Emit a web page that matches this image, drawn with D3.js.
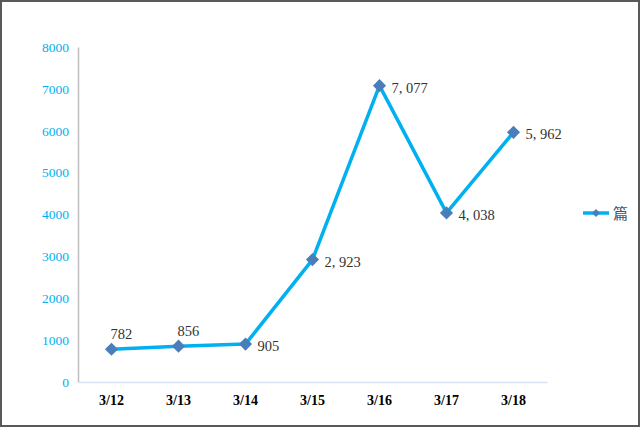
<!DOCTYPE html>
<html><head><meta charset="utf-8">
<script src="https://cdn.jsdelivr.net/npm/d3@7"></script>
<style>html,body{margin:0;padding:0;background:#fff;}svg{display:block;}</style>
</head><body>
<svg id="c" width="640" height="427"></svg>
<script>
const categories = ["3/12","3/13","3/14","3/15","3/16","3/17","3/18"];
const values = [782, 856, 905, 2923, 7077, 4038, 5962];
const yTicks = [0,1000,2000,3000,4000,5000,6000,7000,8000];
const seriesName = "篇";
// label placement: "above" or "right"
const labelPos = ["above","above","right","right","right","right","right"];

(function(){
const svg = d3.select("#c");
const W = 640, H = 427;
svg.append("rect").attr("x",1).attr("y",1).attr("width",W-2).attr("height",H-2)
  .attr("fill","#fff").attr("stroke","#595959").attr("stroke-width",2);

const pL = 78, pR = 547, pT = 47, pB = 382;
const x = d3.scaleBand().domain(categories).range([pL,pR]);
const y = d3.scaleLinear().domain([0,8000]).range([pB,pT]);
const cx = d => x(d) + x.bandwidth()/2;

// y axis
const yAxis = d3.axisLeft(y).tickValues(yTicks).tickSize(0).tickPadding(9).tickFormat(d3.format("d"));
const ga = svg.append("g").attr("transform",`translate(${pL},0)`).call(yAxis);
ga.select(".domain").attr("stroke","#bfbfbf").attr("stroke-width",1.5);
ga.selectAll("text").attr("fill","#00b0f0").attr("font-family","Liberation Serif, serif").attr("font-size",13.5);

// x axis
const xAxis = d3.axisBottom(x).tickSize(0).tickPadding(13);
const gx = svg.append("g").attr("transform",`translate(0,${pB})`).call(xAxis);
gx.select(".domain").attr("stroke","#d6e3f3").attr("stroke-width",1.5);
gx.selectAll("text").attr("fill","#000").attr("font-family","Liberation Serif, serif")
  .attr("font-size",14).attr("font-weight","bold");

// line
const line = d3.line().x((d,i)=>cx(categories[i])).y(d=>y(d));
svg.append("path").datum(values).attr("d",line).attr("fill","none")
  .attr("stroke","#00b0f0").attr("stroke-width",3.5).attr("stroke-linejoin","round");

// markers
const diamond = d3.symbol().type(d3.symbolDiamond2).size(110);
svg.selectAll(".m").data(values).enter().append("path")
  .attr("d",diamond).attr("fill","#4a7ebb")
  .attr("transform",(d,i)=>`translate(${cx(categories[i])},${y(d)})`);

// labels
const fmt = v => d3.format(",")(v).replace(",", ", ");
svg.selectAll(".lb").data(values).enter().append("text")
  .attr("x",(d,i)=> labelPos[i]==="above" ? cx(categories[i]) - 1 : cx(categories[i]) + 12)
  .attr("y",(d,i)=> labelPos[i]==="above" ? y(d) - 10 : y(d) + 7)
  .attr("font-family","Liberation Serif, serif").attr("font-size",14.5).attr("fill","#333")
  .text(d=>fmt(d));

// legend
const lg = svg.append("g").attr("transform","translate(583,213)");
lg.append("line").attr("x1",0).attr("x2",26).attr("y1",0).attr("y2",0)
  .attr("stroke","#00b0f0").attr("stroke-width",3.5);
lg.append("path").attr("d",d3.symbol().type(d3.symbolDiamond2).size(40)).attr("fill","#4a7ebb")
  .attr("transform","translate(13,0)");
lg.append("text").attr("x",30).attr("y",6).attr("font-family","Noto Sans CJK SC, sans-serif")
  .attr("font-size",15).attr("fill","#44546a").text(seriesName);
})();
</script>
</body></html>
